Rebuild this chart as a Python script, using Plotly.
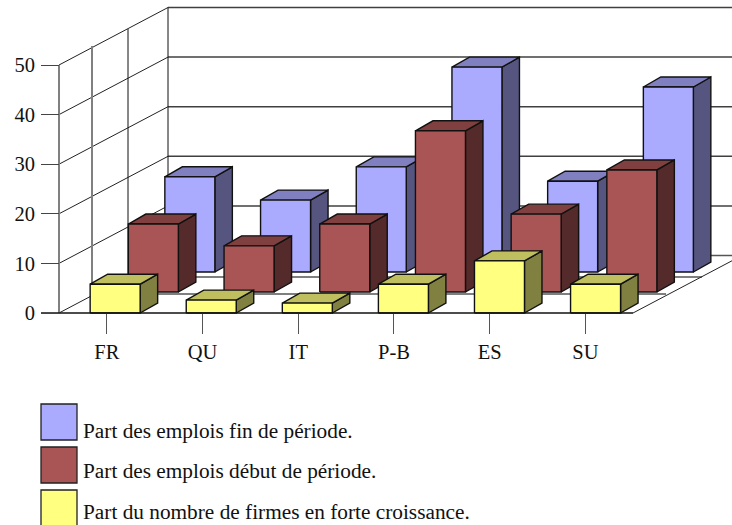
import plotly.graph_objects as go

categories = ["FR", "QU", "IT", "P-B", "ES", "SU"]
values_end = [19.2, 14.5, 21.2, 41.3, 18.3, 37.3]
values_start = [13.7, 9.3, 13.7, 32.5, 15.7, 24.6]
values_firms = [5.8, 2.6, 2.0, 5.8, 10.5, 5.8]
y_ticks = [0, 10, 20, 30, 40, 50]
series_names = ["Part des emplois fin de période.",
                "Part des emplois début de période.",
                "Part du nombre de firmes en forte croissance."]

W, H = 732, 525
X_UNIT, Y_UNIT = 95.7, 4.96       # pixels per category / per value unit
X0_PX, Y0_PX = 106.85, 313        # pixel position of the first category / of value 0
FONT = "Liberation Serif"
EDGE = "#111111"


def dx(px):
    return px / X_UNIT


def dy(px):
    return px / Y_UNIT


LEFT = dx(59 - X0_PX)
RIGHT = LEFT + dx(574)
WALL = (dx(109), dy(57.5))
BAR_W = dx(50)
BAR_START = dx(-17)
BAR_DEPTH = (dx(17.5), dy(10))

fig = go.Figure()


def line(xs, ys, color, width):
    fig.add_trace(go.Scatter(x=xs, y=ys, mode="lines", line=dict(color=color, width=width),
                             hoverinfo="skip", showlegend=False))


# back wall and left wall grid
for t in y_ticks:
    if t > 0:
        line([LEFT + WALL[0], RIGHT + WALL[0] + 1], [t + WALL[1], t + WALL[1]], "#404040", 1.5)
    line([LEFT, LEFT + WALL[0]], [t, t + WALL[1]], "#222222", 1)

# floor lines and left wall verticals
floor_steps = [(dx(33), dy(19), "#808080", 2), (dx(69), dy(36), "#111111", 1), (WALL[0], WALL[1], "#111111", 1)]
line([LEFT, LEFT], [0, 50], "#808080", 2)
for sx, sy, col, wd in floor_steps:
    line([LEFT + sx, LEFT + sx], [sy, 50 + sy], col, wd)
    line([LEFT + sx, RIGHT + sx], [sy, sy], "#555555", 1.5)
line([RIGHT, RIGHT + WALL[0]], [0, WALL[1]], "#222222", 1)

# bars, back row first: values, depth offset, spacing, face colours
rows = [
    (values_end, (dx(75), dy(41)), 1.0, "#AAAAFF", "#8080C0", "#555580", series_names[0]),
    (values_start, (dx(38.5), dy(21)), 1.0, "#AA5555", "#804040", "#552A2A", series_names[1]),
    (values_firms, (dx(0.3), 0), 1.004, "#FFFF80", "#BFBF60", "#808040", series_names[2]),
]


def polygons(values, offset, step, face):
    xs, ys = [], []
    for i, v in enumerate(values):
        l = i * step + BAR_START + offset[0]
        r = l + BAR_W
        b = offset[1]
        t = b + v
        if face == "front":
            px, py = [l, r, r, l, l], [b, b, t, t, b]
        elif face == "top":
            px = [l, r, r + BAR_DEPTH[0], l + BAR_DEPTH[0], l]
            py = [t, t, t + BAR_DEPTH[1], t + BAR_DEPTH[1], t]
        else:
            px = [r, r + BAR_DEPTH[0], r + BAR_DEPTH[0], r, r]
            py = [b, b + BAR_DEPTH[1], t + BAR_DEPTH[1], t, b]
        xs += px + [None]
        ys += py + [None]
    return xs, ys


for values, offset, step, c_front, c_top, c_side, name in rows:
    for face, col in (("side", c_side), ("top", c_top), ("front", c_front)):
        xs, ys = polygons(values, offset, step, face)
        fig.add_trace(go.Scatter(x=xs, y=ys, mode="lines", fill="toself", fillcolor=col,
                                 line=dict(color=EDGE, width=1.4), name=name,
                                 hoverinfo="skip", showlegend=False))

# base line
line([LEFT - dx(18), RIGHT], [0, 0], "#111111", 1.6)

# legend
shapes, annotations = [], []
for name, col, top, text_y in zip(series_names, ["#AAAAFF", "#AA5555", "#FFFF80"],
                                  [404, 447, 490], [431, 471, 512]):
    shapes.append(dict(type="rect", xref="paper", yref="paper", x0=41 / W, x1=77 / W,
                       y0=1 - top / H, y1=1 - (top + 36) / H, fillcolor=col,
                       line=dict(color="#222222", width=1.3)))
    annotations.append(dict(xref="paper", yref="paper", x=83 / W, y=1 - text_y / H, text=name,
                            showarrow=False, xanchor="left", yanchor="middle", xshift=-2,
                            font=dict(family=FONT, size=21.3, color="#111111")))

fig.update_layout(
    width=W, height=H, margin=dict(l=0, r=0, t=0, b=0), autosize=False,
    paper_bgcolor="white", plot_bgcolor="white", showlegend=False,
    shapes=shapes, annotations=annotations,
    xaxis=dict(range=[-X0_PX / X_UNIT, (W - X0_PX) / X_UNIT], anchor="free",
               position=(H - Y0_PX) / H, showgrid=False, zeroline=False, showline=False,
               tickmode="array", tickvals=list(range(len(categories))), ticktext=categories,
               ticks="outside", ticklen=20, tickcolor="#555555", tickwidth=1,
               tickfont=dict(family=FONT, size=20.5, color="#111111")),
    yaxis=dict(range=[-(H - Y0_PX) / Y_UNIT, Y0_PX / Y_UNIT], anchor="free",
               position=59 / W, showgrid=False, zeroline=False, showline=False,
               tickmode="array", tickvals=y_ticks, ticks="outside", ticklen=18,
               tickcolor="#444444", tickwidth=1, ticklabelstandoff=2,
               tickfont=dict(family=FONT, size=20.5, color="#111111")),
)

fig.write_html("out.html", config={"displayModeBar": False},
               post_script="document.body.style.margin='0';document.documentElement.style.overflow='hidden';")
